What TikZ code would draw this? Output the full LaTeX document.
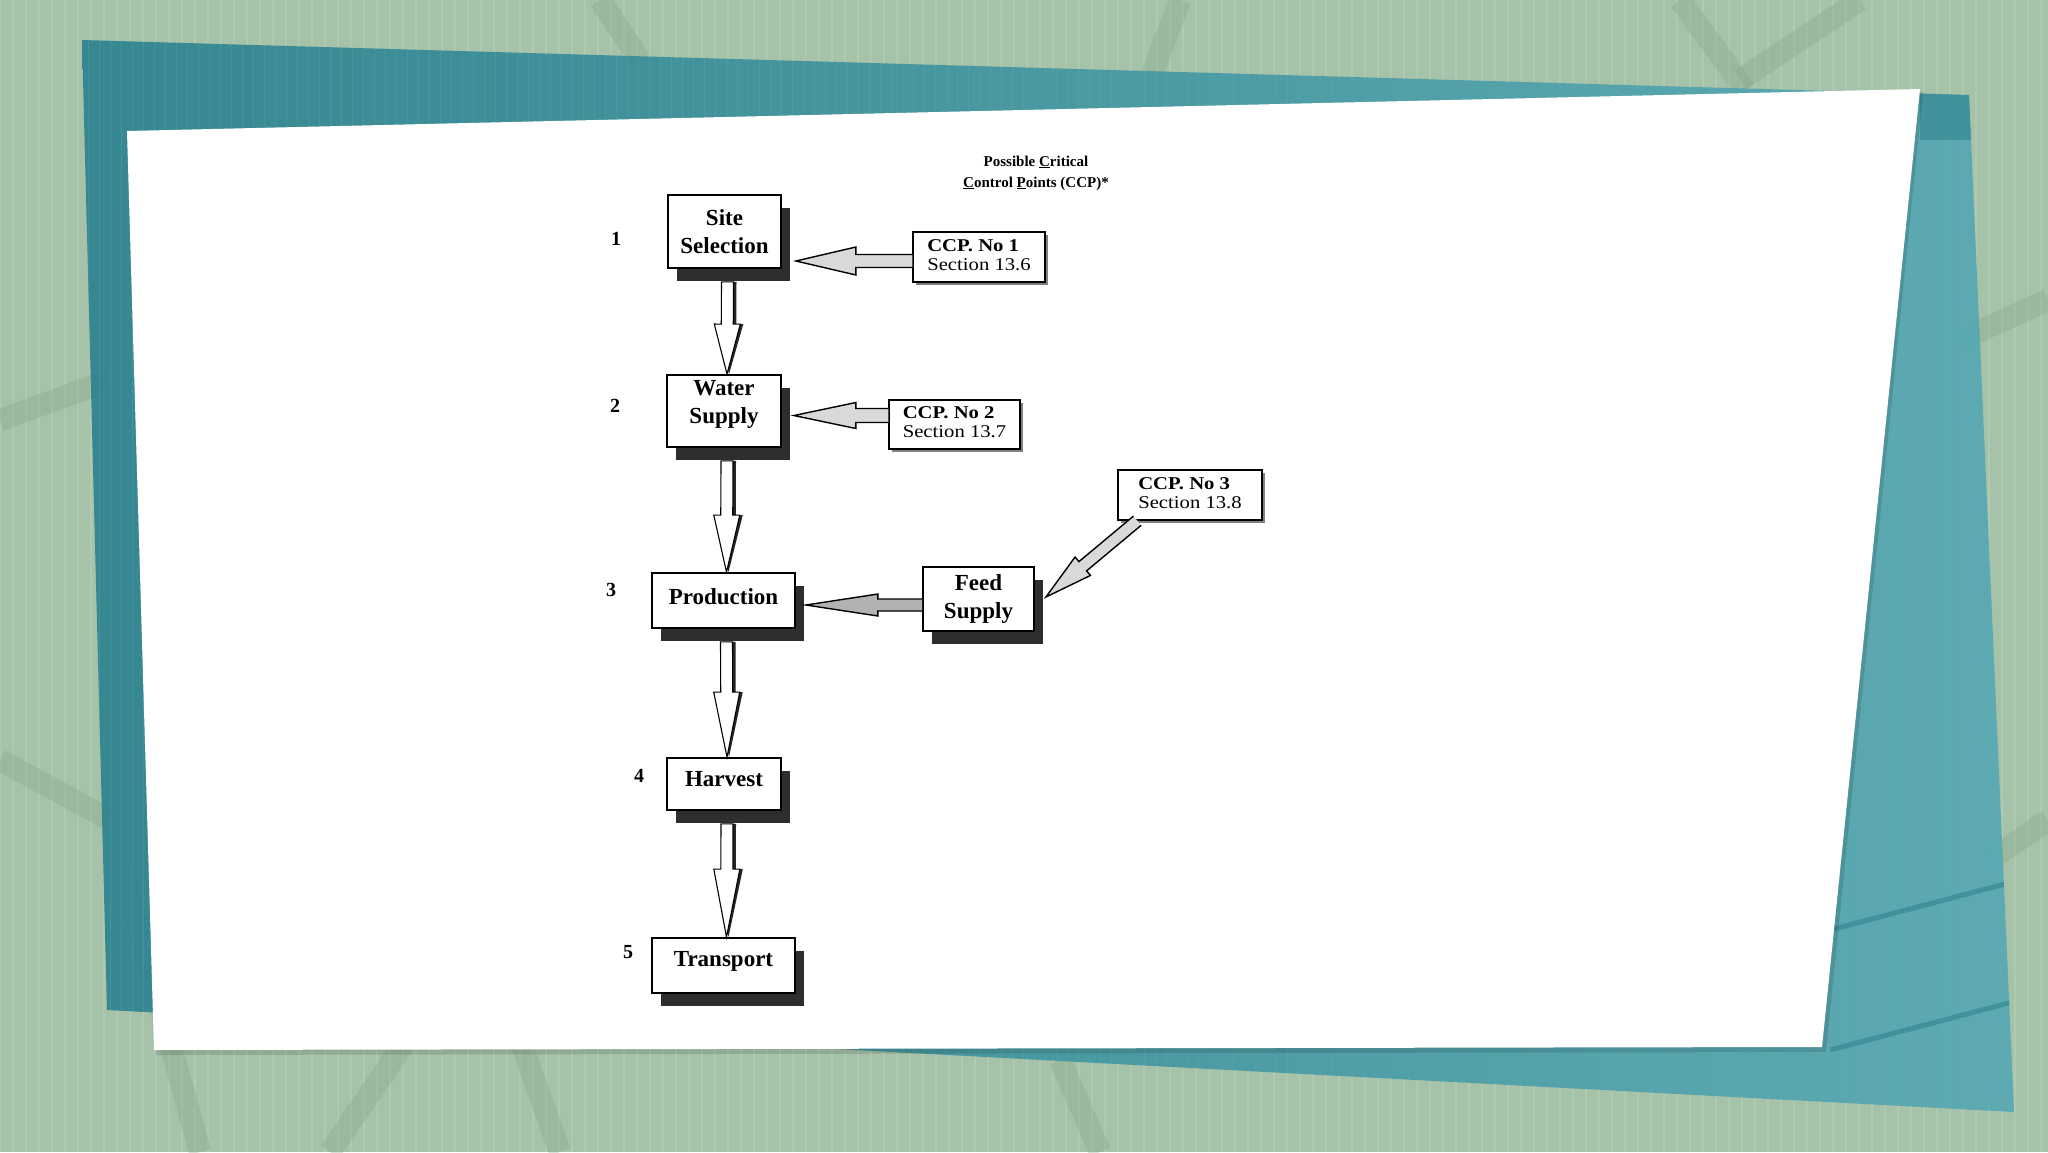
\documentclass[tikz,border=0pt]{standalone}
\usepackage{fontspec}
\setmainfont{Liberation Serif}
\usetikzlibrary{calc,shadows}
\definecolor{bggreen}{HTML}{A6C2A9}
\definecolor{bgdark}{HTML}{86A68B}
\definecolor{bglight}{HTML}{BCD6BF}
\definecolor{tealdark}{HTML}{2E8390}
\definecolor{teallight}{HTML}{58A9B3}
\newcommand\boxfont{\fontsize{23}{28}\selectfont\bfseries}
\newcommand\ccpfont{\fontsize{18}{19}\selectfont}
\newcommand\numfont{\fontsize{20}{22}\selectfont\bfseries}
\newcommand\ttlfont{\fontsize{15}{21}\selectfont\bfseries}
\newcommand\lift[2]{\raisebox{#1}[\height][\depth]{#2}}
% block arrow geometry: #1 tail, #2 tip, #3 shaft half width, #4 head half width, #5 head length
\newcommand\blockgeom[5]{%
  \coordinate (ba-c) at ($(#2)!#5!(#1)$);
  \coordinate (ba-1) at ($(#1)!#3!90:(#2)$);
  \coordinate (ba-2) at ($(ba-c)!#3!90:(#2)$);
  \coordinate (ba-3) at ($(ba-c)!#4!90:(#2)$);
  \coordinate (ba-4) at ($(ba-c)!#4!-90:(#2)$);
  \coordinate (ba-5) at ($(ba-c)!#3!-90:(#2)$);
  \coordinate (ba-6) at ($(#1)!#3!-90:(#2)$);
}
\newcommand\varrow[3]{% #1 tail, #2 tip, #3 head length
  \blockgeom{#1}{#2}{6pt}{13pt}{#3}
  \fill[vshadow] ($(ba-1)+(3,0)$) -- ($(ba-2)+(3,0)$) -- ($(ba-3)+(3,0)$) -- ($(#2)+(2,0)$)
     -- ($(ba-4)+(3,0)$) -- ($(ba-5)+(3,0)$) -- ($(ba-6)+(3,0)$) -- cycle;
  \draw[vbody] (ba-1) -- (ba-2) -- (ba-3) -- (#2) -- (ba-4) -- (ba-5) -- (ba-6) -- cycle;
}
\newcommand\harrow[7]{% #1 tail, #2 tip, #3 shaft hw, #4 head hw, #5 head len, #6 style
  \blockgeom{#1}{#2}{#3}{#4}{#5}
  \draw[#6] (ba-1) -- (ba-2) -- (ba-3) -- (#2) -- (ba-4) -- (ba-5) -- (ba-6) #7;
}
\begin{document}
\begin{tikzpicture}[x=1pt,y=-1pt,
  mainbox/.style={draw=black, line width=1.8pt, fill=white, inner sep=0pt, align=center,
    font=\boxfont, general shadow={fill=black!82, shadow xshift=9pt, shadow yshift=-13pt}},
  ccpbox/.style={draw=black, line width=1.4pt, fill=white, inner sep=0pt, align=left,
    font=\ccpfont, general shadow={fill=black!50, shadow xshift=3pt, shadow yshift=-3pt}},
  numlbl/.style={font=\numfont, inner sep=0pt},
  vbody/.style={draw=black, line width=1.1pt, fill=white},
  vshadow/.style={fill=black!85},
  hbody/.style={draw=black, line width=1.4pt, fill=black!15},
  fbody/.style={draw=black, line width=1.4pt, fill=black!30},
]
\useasboundingbox (0,0) rectangle (2048,1152);
% ---------- background ----------
\fill[bggreen] (0,0) rectangle (2048,1152);
\draw[bglight, line width=1.2pt, opacity=0.4] (0,0) grid[step=13] (2048,1152);
\begin{scope}[bgdark, line width=22pt, opacity=0.35]
  \draw (120,860) -- (200,1152);
  \draw (330,1152) -- (420,1020);
  \draw (560,1152) -- (520,1040);
  \draw (1100,1152) -- (1060,1060);
  \draw (1740,80) -- (1860,0);
  \draw (1680,0) -- (1745,90);
  \draw (0,420) -- (110,380);
  \draw (0,760) -- (110,820);
  \draw (2048,300) -- (1960,340);
  \draw (2048,820) -- (1990,860);
  \draw (600,0) -- (640,60);
  \draw (1180,0) -- (1150,80);
\end{scope}
% ---------- teal sheet ----------
\shade[left color=tealdark, right color=teallight, opacity=0.93]
  (82,40) -- (1969,95) -- (2014,1112) -- (107,1010) -- cycle;
\begin{scope}
  \clip (82,40) -- (1969,95) -- (2014,1112) -- (107,1010) -- cycle;
  \draw[teallight, line width=1pt, opacity=0.35] (0,0) grid[step=11] (2048,1152);
  \fill[tealdark, opacity=0.6] (1920,90) rectangle (1972,140);
  \draw[tealdark, line width=5pt, opacity=0.6] (1830,930) -- (2020,880);
  \draw[tealdark, line width=5pt, opacity=0.6] (1830,1050) -- (2020,1000);
\end{scope}
% ---------- white card ----------
\fill[black, opacity=0.12] (130,134) -- (1923,92) -- (1826,1052) -- (156,1055) -- cycle;
\fill[white] (127,131) -- (1920,89) -- (1822,1047) -- (154,1050) -- cycle;
% ---------- title ----------
\node[font=\ttlfont, align=center, inner sep=0pt] (title) at (1036,173)
  {Possible \underline{C}ritical\\\underline{C}ontrol \underline{P}oints (CCP)*};
% ---------- main chain ----------
\node[mainbox, minimum width=113, minimum height=73] (site) at (724.5,231.5) {Site\\Selection};
\node[mainbox, minimum width=114, minimum height=72] (water) at (724,411)
  {\lift{7pt}{\begin{tabular}{@{}c@{}}Water\\Supply\end{tabular}}};
\node[mainbox, minimum width=143, minimum height=55] (prod) at (723.5,600.5) {\lift{4pt}{Production}};
\node[mainbox, minimum width=114, minimum height=52] (harv) at (724,784) {\lift{5pt}{Harvest}};
\node[mainbox, minimum width=143, minimum height=55] (trans) at (723.5,965.5) {\lift{4pt}{Transport}};
\node[mainbox, minimum width=111, minimum height=64] (feed) at (978.5,599) {Feed\\Supply};
% ---------- CCP boxes ----------
\node[ccpbox, minimum width=132, minimum height=50] (ccp1) at (979,257)
  {\scalebox{1.15}[1]{\begin{tabular}{@{}l@{}}\bfseries CCP. No 1\\Section 13.6\end{tabular}}};
\node[ccpbox, minimum width=131, minimum height=49] (ccp2) at (954.5,424.5)
  {\scalebox{1.15}[1]{\begin{tabular}{@{}l@{}}\bfseries CCP. No 2\\Section 13.7\end{tabular}}};
\node[ccpbox, minimum width=144, minimum height=50] (ccp3) at (1190,495)
  {\scalebox{1.15}[1]{\begin{tabular}{@{}l@{}}\bfseries CCP. No 3\\Section 13.8\end{tabular}}};
% ---------- numbers ----------
\node[numlbl] (n1) at (616,239) {1};
\node[numlbl] (n2) at (615,406) {2};
\node[numlbl] (n3) at (611,590) {3};
\node[numlbl] (n4) at (639,776) {4};
\node[numlbl] (n5) at (628,952) {5};
% ---------- vertical arrows ----------
\coordinate (a1s) at ([xshift=3pt,yshift=-13pt]site.south);
\coordinate (a1e) at ([xshift=3pt]water.north);
\varrow{a1s}{a1e}{50pt}
\coordinate (a2s) at ([xshift=3pt,yshift=-13pt]water.south);
\coordinate (a2e) at ([xshift=3pt]prod.north);
\varrow{a2s}{a2e}{57pt}
\coordinate (a3s) at ([xshift=3pt,yshift=-13pt]prod.south);
\coordinate (a3e) at ([xshift=3pt]harv.north);
\varrow{a3s}{a3e}{65pt}
\coordinate (a4s) at ([xshift=3pt,yshift=-13pt]harv.south);
\coordinate (a4e) at ([xshift=3pt]trans.north);
\varrow{a4s}{a4e}{68pt}
% ---------- horizontal arrows ----------
\coordinate (h1s) at ([yshift=-4pt]ccp1.west);
\coordinate (h1e) at ([xshift=14pt]site.east |- h1s);
\harrow{h1s}{h1e}{6.5pt}{14pt}{60pt}{hbody}{}
\coordinate (h2s) at ([yshift=9pt]ccp2.west);
\coordinate (h2e) at ([xshift=12pt]water.east |- h2s);
\harrow{h2s}{h2e}{7pt}{13pt}{62pt}{hbody}{}
\coordinate (h3s) at ([yshift=-6pt]feed.west);
\coordinate (h3e) at ([xshift=10pt]prod.east |- h3s);
\harrow{h3s}{h3e}{6pt}{11pt}{72pt}{fbody}{}
\coordinate (h4s) at ([xshift=20pt]ccp3.south west);
\coordinate (h4e) at ([xshift=11pt,yshift=2pt]feed.east);
\harrow{h4s}{h4e}{6pt}{12pt}{48pt}{hbody}{}
\end{tikzpicture}
\end{document}
